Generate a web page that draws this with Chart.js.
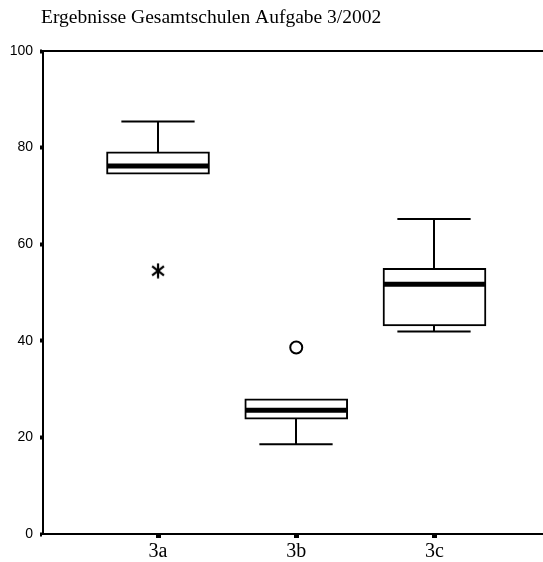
<!DOCTYPE html>
<html>
<head>
<meta charset="utf-8">
<script src="https://cdn.jsdelivr.net/npm/chart.js@4.4.1/dist/chart.umd.min.js"></script>
<style>
  html, body { margin: 0; padding: 0; background: #fff; }
  #wrap { position: relative; width: 543px; height: 562px; }
</style>
</head>
<body>
<div id="wrap"><canvas id="c" width="543" height="562"></canvas></div>
<script>
// ---- data ----
const titleText = 'Ergebnisse Gesamtschulen Aufgabe 3/2002';
const categories = ['3a', '3b', '3c'];
const whiskerLow  = [74.5, 18.6, 41.9];
const quartile1   = [74.5, 23.8, 43.1];
const medians     = [76.2, 25.6, 51.7];
const quartile3   = [79.1, 28.0, 55.0];
const whiskerHigh = [85.4, 28.0, 65.2];
const outlierCategory = [0, 1];
const outlierValue    = [54.5, 38.6];
const outlierKind     = ['extreme', 'outlier'];
const yTicks = [0, 20, 40, 60, 80, 100];

// asterisk point style for extreme values
function makeAsterisk(size) {
  const c = document.createElement('canvas');
  c.width = size; c.height = size;
  const g = c.getContext('2d');
  const m = size / 2, r = size / 2 - 0.5;
  g.strokeStyle = '#000'; g.lineWidth = 2.2; g.lineCap = 'butt';
  [90, 38, 142].forEach(a => {
    const t = a * Math.PI / 180;
    g.beginPath();
    g.moveTo(m - r * Math.cos(t), m - r * Math.sin(t));
    g.lineTo(m + r * Math.cos(t), m + r * Math.sin(t));
    g.stroke();
  });
  return c;
}
const asterisk = makeAsterisk(16);

const boxData = categories.map((c, i) => ({ x: i + 1, y: [quartile1[i], quartile3[i]] }));
const outlierData = outlierCategory.map((ci, k) => ({ x: ci + 1, y: outlierValue[k] }));

const boxPlotPlugin = {
  id: 'boxWhiskers',
  beforeDatasetsDraw(chart) {
    const { ctx, scales: { x, y } } = chart;
    ctx.save();
    ctx.strokeStyle = '#000';
    ctx.lineWidth = 2;
    const capHalf = (x.getPixelForValue(2) - x.getPixelForValue(1)) * 0.265;
    categories.forEach((c, i) => {
      const cx = Math.round(x.getPixelForValue(i + 1));
      const segs = [[quartile3[i], whiskerHigh[i]], [quartile1[i], whiskerLow[i]]];
      segs.forEach(([from, to]) => {
        if (from === to) return;
        const y0 = y.getPixelForValue(from), y1 = y.getPixelForValue(to);
        ctx.beginPath(); ctx.moveTo(cx, y0); ctx.lineTo(cx, y1); ctx.stroke();
        ctx.beginPath(); ctx.moveTo(cx - capHalf, y1); ctx.lineTo(cx + capHalf, y1); ctx.stroke();
      });
    });
    ctx.restore();
  },
  afterDatasetsDraw(chart) {
    const { ctx, scales: { x, y } } = chart;
    const meta = chart.getDatasetMeta(0);
    ctx.save();
    ctx.strokeStyle = '#000';
    ctx.lineWidth = 5;
    categories.forEach((c, i) => {
      const bar = meta.data[i];
      const half = bar.width / 2;
      const my = y.getPixelForValue(medians[i]);
      ctx.beginPath(); ctx.moveTo(bar.x - half + 1, my); ctx.lineTo(bar.x + half - 1, my); ctx.stroke();
    });
    ctx.restore();
  },
  afterDraw(chart) {
    const { ctx, scales: { x, y } } = chart;
    ctx.save();
    ctx.strokeStyle = '#000';
    ctx.lineWidth = 2;
    const yt = y.getPixelForValue(100);
    ctx.beginPath(); ctx.moveTo(x.left, yt); ctx.lineTo(chart.width, yt); ctx.stroke();
    ctx.fillStyle = '#000';
    ctx.font = '19.5px "Liberation Serif", "Times New Roman", serif';
    ctx.textBaseline = 'alphabetic';
    ctx.textAlign = 'left';
    ctx.fillText(titleText, 41, 23);
    ctx.restore();
  }
};

new Chart(document.getElementById('c'), {
  type: 'bar',
  data: {
    datasets: [
      {
        type: 'bar',
        data: boxData,
        backgroundColor: '#fff',
        borderColor: '#000',
        borderWidth: 2,
        borderSkipped: false,
        barThickness: 103,
        order: 2
      },
      {
        type: 'scatter',
        data: outlierData,
        pointStyle: outlierKind.map(k => k === 'extreme' ? asterisk : 'circle'),
        pointRadius: 6,
        pointBorderWidth: 2,
        pointBorderColor: '#000',
        pointBackgroundColor: '#fff',
        order: 1
      }
    ]
  },
  options: {
    responsive: false,
    animation: false,
    events: [],
    layout: { autoPadding: false, padding: { top: 51, right: 0, bottom: 0, left: 0 } },
    plugins: { legend: { display: false }, tooltip: { enabled: false }, title: { display: false } },
    scales: {
      x: {
        type: 'linear',
        offset: false,
        min: 0.168,
        max: 3.785,
        afterBuildTicks(scale) { scale.ticks = categories.map((c, i) => ({ value: i + 1 })); },
        afterFit(scale) { scale.height = 28; scale.paddingRight = 0; scale.paddingLeft = 0; },
        ticks: {
          callback: (v) => categories[Math.round(v) - 1],
          color: '#000',
          font: { family: '"Liberation Serif", "Times New Roman", serif', size: 20 },
          padding: 2,
          maxRotation: 0,
          autoSkip: false
        },
        grid: { offset: false, drawOnChartArea: false, drawTicks: true, tickLength: 4, tickWidth: 5, tickColor: '#000' },
        border: { display: true, color: '#000', width: 2 }
      },
      y: {
        min: 0,
        max: 100,
        afterBuildTicks(scale) { scale.ticks = yTicks.map(v => ({ value: v })); },
        afterFit(scale) { scale.width = 43; },
        ticks: {
          color: '#000',
          font: { family: '"Liberation Sans", Arial, sans-serif', size: 14 },
          padding: 7
        },
        grid: { drawOnChartArea: false, drawTicks: true, tickLength: 3, tickWidth: 4, tickColor: '#000' },
        border: { display: true, color: '#000', width: 2 }
      }
    }
  },
  plugins: [boxPlotPlugin]
});
</script>
</body>
</html>
